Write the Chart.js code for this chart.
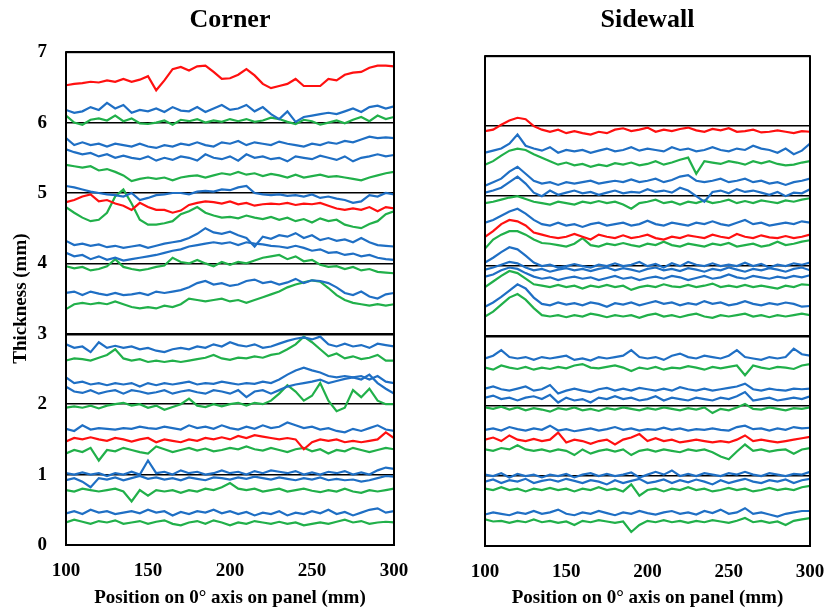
<!DOCTYPE html>
<html>
<head>
<meta charset="utf-8">
<script src="https://cdn.jsdelivr.net/npm/chart.js@4.4.1/dist/chart.umd.min.js"></script>
<style>
  body { margin: 0; background: #fff; }
  #wrap { position: relative; width: 826px; height: 612px; }
  canvas { position: absolute; top: 0; }
</style>
</head>
<body>
<div id="wrap">
  <canvas id="corner" width="410" height="612" style="left:0"></canvas>
  <canvas id="sidewall" width="416" height="612" style="left:410px"></canvas>
</div>
<script>
// position along the 0 deg axis (mm)
var positions = [100,105,110,115,120,125,130,135,140,145,150,155,160,165,170,175,180,185,190,195,200,
                 205,210,215,220,225,230,235,240,245,250,255,260,265,270,275,280,285,290,295,300];
var yTicks = [0,1,2,3,4,5,6,7];
var xTicks = [100,150,200,250,300];

// Corner thickness profiles, top to bottom (mm)
var c01 = [6.53,6.55,6.56,6.58,6.57,6.60,6.58,6.62,6.58,6.61,6.66,6.46,6.60,6.76,6.79,6.74,6.80,6.81,6.72,6.62,6.63,6.68,6.76,6.67,6.55,6.49,6.52,6.55,6.62,6.52,6.52,6.52,6.62,6.60,6.68,6.71,6.72,6.78,6.81,6.81,6.80];
var c02 = [6.18,6.14,6.16,6.22,6.18,6.28,6.20,6.25,6.14,6.18,6.16,6.20,6.15,6.22,6.17,6.16,6.22,6.15,6.20,6.25,6.18,6.20,6.25,6.16,6.22,6.12,6.05,6.16,6.01,6.08,6.10,6.12,6.14,6.12,6.16,6.20,6.15,6.22,6.24,6.20,6.23];
var c03 = [6.10,6.00,5.97,6.04,6.06,6.03,6.10,6.02,6.06,5.99,5.98,6.00,6.03,5.97,6.04,6.02,6.05,6.00,6.03,6.01,6.05,6.02,6.05,6.01,6.03,6.07,6.05,6.01,5.98,6.04,6.02,5.97,6.00,6.03,5.99,6.04,6.08,6.02,6.10,6.05,6.08];
var c04 = [5.78,5.68,5.72,5.68,5.70,5.66,5.70,5.68,5.66,5.70,5.66,5.64,5.68,5.66,5.70,5.68,5.72,5.68,5.66,5.72,5.70,5.74,5.68,5.72,5.70,5.68,5.73,5.70,5.68,5.66,5.70,5.68,5.72,5.70,5.74,5.72,5.76,5.80,5.78,5.79,5.78];
var c05 = [5.62,5.58,5.55,5.57,5.52,5.55,5.50,5.53,5.50,5.48,5.52,5.46,5.50,5.47,5.52,5.50,5.46,5.55,5.50,5.48,5.52,5.46,5.55,5.50,5.52,5.48,5.50,5.45,5.52,5.50,5.48,5.53,5.50,5.47,5.52,5.45,5.50,5.52,5.55,5.52,5.54];
var c06 = [5.40,5.38,5.36,5.38,5.32,5.34,5.30,5.25,5.17,5.20,5.22,5.20,5.22,5.18,5.22,5.24,5.25,5.22,5.25,5.28,5.26,5.30,5.26,5.28,5.24,5.27,5.25,5.22,5.26,5.22,5.24,5.26,5.23,5.24,5.22,5.20,5.18,5.22,5.25,5.28,5.30];
var c07 = [5.10,5.08,5.05,5.02,5.00,4.98,4.97,4.95,5.00,4.90,4.93,4.97,4.98,5.00,5.00,4.98,5.02,5.03,5.02,5.05,5.04,5.08,5.10,5.00,4.98,4.97,4.98,4.96,4.97,4.95,4.98,4.93,4.95,4.92,4.90,4.86,4.88,4.97,4.95,5.00,4.98];
var c08 = [4.87,4.90,4.95,4.98,4.88,4.90,4.85,4.82,4.76,4.86,4.80,4.76,4.76,4.72,4.75,4.83,4.86,4.88,4.87,4.85,4.88,4.84,4.86,4.82,4.84,4.85,4.84,4.86,4.83,4.85,4.84,4.86,4.82,4.78,4.76,4.78,4.76,4.80,4.74,4.80,4.78];
var c09 = [4.80,4.72,4.65,4.60,4.62,4.72,4.95,5.05,4.85,4.62,4.55,4.55,4.57,4.60,4.70,4.74,4.80,4.72,4.68,4.65,4.66,4.64,4.68,4.65,4.63,4.66,4.62,4.65,4.60,4.63,4.58,4.64,4.60,4.62,4.55,4.52,4.50,4.56,4.60,4.70,4.74];
var c10 = [4.32,4.26,4.28,4.25,4.27,4.23,4.25,4.22,4.24,4.26,4.22,4.25,4.28,4.30,4.32,4.36,4.42,4.50,4.44,4.42,4.45,4.40,4.36,4.24,4.38,4.35,4.40,4.38,4.43,4.36,4.40,4.33,4.36,4.32,4.34,4.30,4.36,4.30,4.26,4.25,4.24];
var c11 = [4.15,4.10,4.12,4.06,4.10,4.05,4.08,4.04,4.06,4.08,4.10,4.12,4.15,4.18,4.20,4.24,4.26,4.28,4.30,4.28,4.30,4.26,4.30,4.28,4.27,4.25,4.24,4.22,4.25,4.22,4.18,4.20,4.15,4.16,4.12,4.14,4.10,4.12,4.08,4.06,4.05];
var c12 = [3.96,3.93,3.95,3.90,3.92,3.96,4.06,3.95,3.92,3.90,3.92,3.95,3.97,4.08,4.02,4.00,4.05,4.00,3.96,4.02,3.98,4.02,4.00,4.04,4.08,4.10,4.12,4.06,4.10,4.03,4.05,3.98,3.95,3.96,3.92,3.95,3.90,3.92,3.88,3.87,3.86];
var c13 = [3.58,3.60,3.55,3.60,3.57,3.55,3.58,3.55,3.56,3.58,3.55,3.60,3.58,3.60,3.62,3.66,3.72,3.75,3.70,3.72,3.68,3.70,3.75,3.77,3.72,3.74,3.70,3.73,3.78,3.72,3.76,3.75,3.72,3.66,3.58,3.55,3.60,3.53,3.50,3.56,3.58];
var c14 = [3.35,3.42,3.44,3.42,3.44,3.42,3.46,3.42,3.38,3.36,3.38,3.36,3.40,3.38,3.42,3.50,3.48,3.46,3.48,3.50,3.46,3.48,3.44,3.48,3.52,3.56,3.60,3.66,3.70,3.73,3.76,3.74,3.65,3.55,3.48,3.44,3.42,3.40,3.42,3.40,3.42];
var c15 = [2.85,2.80,2.82,2.74,2.88,2.80,2.83,2.80,2.82,2.78,2.80,2.76,2.74,2.78,2.80,2.78,2.82,2.80,2.85,2.82,2.88,2.84,2.82,2.85,2.80,2.82,2.86,2.90,2.93,2.95,2.92,2.96,2.85,2.82,2.86,2.82,2.84,2.80,2.86,2.84,2.82];
var c16 = [2.62,2.65,2.64,2.62,2.66,2.70,2.78,2.65,2.62,2.64,2.60,2.62,2.60,2.62,2.60,2.62,2.64,2.66,2.70,2.65,2.63,2.66,2.65,2.68,2.66,2.70,2.72,2.78,2.85,2.96,2.88,2.78,2.68,2.72,2.65,2.68,2.64,2.66,2.70,2.62,2.62];
var c17 = [2.38,2.30,2.32,2.28,2.30,2.27,2.30,2.28,2.30,2.25,2.30,2.27,2.30,2.28,2.30,2.32,2.28,2.30,2.29,2.32,2.30,2.28,2.30,2.29,2.32,2.30,2.35,2.42,2.48,2.52,2.48,2.45,2.40,2.38,2.40,2.38,2.40,2.35,2.40,2.32,2.30];
var c18 = [2.25,2.18,2.16,2.20,2.15,2.18,2.20,2.15,2.20,2.18,2.15,2.17,2.20,2.15,2.18,2.20,2.17,2.15,2.20,2.18,2.15,2.20,2.10,2.18,2.20,2.15,2.20,2.25,2.28,2.30,2.32,2.35,2.30,2.33,2.36,2.38,2.35,2.42,2.30,2.22,2.15];
var c19 = [1.95,1.97,1.95,1.98,1.94,1.98,2.00,2.02,1.98,2.00,1.95,1.98,1.92,1.96,2.00,2.08,1.98,1.96,2.00,1.97,2.00,2.02,1.98,2.02,2.00,2.05,2.15,2.27,2.18,2.05,2.12,2.30,2.05,1.90,1.95,2.20,2.10,2.22,2.05,2.00,2.00];
var c20 = [1.65,1.62,1.70,1.64,1.66,1.65,1.64,1.66,1.65,1.68,1.66,1.65,1.68,1.66,1.64,1.70,1.66,1.68,1.65,1.70,1.66,1.64,1.68,1.65,1.70,1.66,1.68,1.74,1.70,1.66,1.68,1.64,1.66,1.62,1.60,1.65,1.62,1.66,1.70,1.64,1.62];
var c21 = [1.47,1.52,1.50,1.53,1.50,1.48,1.52,1.50,1.47,1.50,1.52,1.46,1.50,1.48,1.46,1.50,1.48,1.52,1.50,1.53,1.50,1.55,1.52,1.56,1.54,1.52,1.50,1.52,1.50,1.36,1.46,1.50,1.48,1.50,1.46,1.48,1.46,1.48,1.50,1.60,1.52];
var c22 = [1.30,1.35,1.32,1.38,1.20,1.35,1.33,1.38,1.35,1.32,1.30,1.40,1.36,1.32,1.35,1.38,1.34,1.37,1.33,1.35,1.38,1.36,1.40,1.36,1.34,1.38,1.35,1.32,1.36,1.38,1.33,1.36,1.30,1.35,1.33,1.38,1.35,1.32,1.35,1.38,1.36];
var c23 = [1.02,1.00,1.03,1.00,1.02,0.98,1.02,1.00,1.04,1.00,1.20,1.02,1.04,1.00,1.06,1.02,1.04,1.00,1.02,1.06,1.02,1.04,1.00,1.05,1.02,1.06,1.04,1.02,1.05,1.00,1.03,1.00,1.04,1.02,1.05,1.00,1.03,1.00,1.06,1.10,1.08];
var c24 = [0.92,0.95,0.90,0.82,0.95,0.93,0.96,0.92,0.95,0.98,0.94,0.96,0.93,0.95,0.92,0.96,0.94,0.92,0.96,0.95,0.93,0.96,0.94,0.97,0.95,0.93,0.96,0.94,0.92,0.95,0.93,0.96,0.92,0.94,0.92,0.93,0.90,0.92,0.95,0.98,0.97];
var c25 = [0.78,0.76,0.80,0.78,0.76,0.78,0.80,0.76,0.62,0.78,0.70,0.78,0.76,0.78,0.74,0.78,0.76,0.80,0.78,0.82,0.88,0.80,0.78,0.80,0.76,0.78,0.80,0.76,0.78,0.80,0.77,0.75,0.78,0.76,0.80,0.76,0.74,0.78,0.76,0.78,0.80];
var c26 = [0.45,0.48,0.44,0.50,0.46,0.48,0.44,0.46,0.48,0.45,0.50,0.46,0.48,0.42,0.47,0.44,0.48,0.46,0.50,0.45,0.48,0.44,0.47,0.42,0.46,0.44,0.48,0.42,0.46,0.44,0.48,0.45,0.50,0.44,0.47,0.42,0.46,0.50,0.52,0.46,0.48];
var c27 = [0.32,0.36,0.33,0.30,0.34,0.32,0.35,0.30,0.32,0.34,0.30,0.33,0.35,0.30,0.28,0.32,0.34,0.30,0.35,0.32,0.28,0.32,0.30,0.34,0.32,0.30,0.33,0.30,0.32,0.28,0.30,0.32,0.30,0.33,0.36,0.32,0.34,0.30,0.32,0.33,0.32];
var cornerSeries = [c01,c02,c03,c04,c05,c06,c07,c08,c09,c10,c11,c12,c13,c14,c15,c16,c17,c18,c19,c20,c21,c22,c23,c24,c25,c26,c27];
var cornerKinds = ['r','b','g','b','b','g','b','r','g','b','b','g','b','g','b','g','b','b','g','b','r','g','b','b','g','b','g'];

// Sidewall thickness profiles, top to bottom (mm)
var s01 = [5.93,5.95,6.02,6.08,6.12,6.10,6.00,5.95,5.92,5.95,5.90,5.93,5.90,5.88,5.92,5.90,5.95,5.97,5.93,5.95,5.98,5.92,5.95,5.93,5.96,5.98,5.94,5.92,5.96,5.94,5.97,5.92,5.93,5.95,5.91,5.92,5.94,5.92,5.90,5.93,5.92];
var s02 = [5.62,5.65,5.68,5.75,5.88,5.72,5.68,5.65,5.70,5.62,5.66,5.64,5.66,5.62,5.65,5.68,5.64,5.66,5.70,5.65,5.68,5.66,5.64,5.70,5.66,5.68,5.64,5.66,5.70,5.66,5.64,5.68,5.66,5.72,5.68,5.66,5.62,5.68,5.60,5.65,5.75];
var s03 = [5.45,5.50,5.58,5.65,5.68,5.66,5.60,5.55,5.50,5.45,5.48,5.44,5.46,5.42,5.45,5.43,5.47,5.45,5.48,5.44,5.46,5.50,5.45,5.48,5.52,5.55,5.32,5.50,5.48,5.46,5.50,5.48,5.45,5.50,5.47,5.50,5.46,5.44,5.45,5.48,5.50];
var s04 = [5.15,5.20,5.25,5.35,5.42,5.32,5.22,5.18,5.20,5.16,5.20,5.18,5.20,5.22,5.18,5.20,5.22,5.20,5.24,5.20,5.22,5.25,5.20,5.23,5.28,5.30,5.22,5.20,5.22,5.25,5.20,5.22,5.25,5.20,5.22,5.18,5.20,5.16,5.20,5.22,5.25];
var s05 = [5.05,5.08,5.12,5.20,5.28,5.18,5.05,5.00,5.08,5.02,5.05,5.08,5.04,5.06,5.02,5.05,5.08,5.04,5.06,5.05,5.10,5.06,5.08,5.05,5.12,5.08,5.00,4.92,5.06,5.08,5.04,5.10,5.06,5.08,5.05,5.02,5.06,5.00,5.05,5.04,5.10];
var s06 = [4.90,4.92,4.95,4.98,5.00,4.96,4.92,4.90,4.88,4.92,4.90,4.88,4.92,4.90,4.93,4.90,4.92,4.88,4.82,4.90,4.92,4.95,4.90,4.92,4.88,4.92,4.90,4.94,4.90,4.92,4.95,4.90,4.93,4.90,4.94,4.92,4.90,4.94,4.92,4.95,4.97];
var s07 = [4.62,4.66,4.72,4.78,4.82,4.75,4.66,4.60,4.58,4.62,4.58,4.60,4.56,4.60,4.62,4.58,4.60,4.62,4.58,4.60,4.65,4.60,4.58,4.62,4.60,4.58,4.62,4.60,4.64,4.60,4.58,4.62,4.66,4.60,4.62,4.58,4.60,4.62,4.60,4.64,4.62];
var s08 = [4.42,4.50,4.60,4.66,4.64,4.58,4.48,4.45,4.42,4.40,4.42,4.46,4.42,4.38,4.45,4.42,4.40,4.44,4.40,4.42,4.45,4.40,4.38,4.42,4.40,4.44,4.42,4.40,4.45,4.42,4.40,4.46,4.42,4.40,4.44,4.41,4.40,4.43,4.40,4.42,4.45];
var s09 = [4.25,4.38,4.45,4.50,4.50,4.45,4.38,4.33,4.32,4.30,4.28,4.32,4.40,4.30,4.28,4.32,4.30,4.33,4.30,4.28,4.32,4.30,4.35,4.30,4.28,4.32,4.30,4.28,4.32,4.30,4.33,4.28,4.30,4.32,4.28,4.30,4.35,4.30,4.32,4.35,4.37];
var s10 = [4.05,4.12,4.20,4.27,4.24,4.15,4.05,4.00,4.02,3.98,4.00,4.03,4.00,3.98,4.02,4.00,4.04,4.00,4.02,4.06,4.00,4.03,3.98,4.04,4.00,4.06,4.02,4.00,4.04,4.00,4.02,4.00,4.05,4.00,4.03,3.98,4.02,4.00,4.04,4.02,4.05];
var s11 = [3.95,3.98,4.02,4.06,4.04,3.98,3.94,3.96,3.92,3.95,3.97,3.94,3.96,3.93,3.96,3.98,3.94,3.97,3.95,3.92,3.96,3.98,3.94,3.96,3.93,3.97,3.95,3.92,3.96,3.94,3.98,3.95,3.92,3.96,3.94,3.97,3.95,3.92,3.96,3.98,3.94];
var s12 = [3.85,3.88,3.94,3.98,3.96,3.90,3.85,3.82,3.84,3.80,3.83,3.85,3.82,3.84,3.80,3.83,3.86,3.82,3.84,3.80,3.83,3.85,3.82,3.86,3.84,3.80,3.83,3.86,3.82,3.84,3.88,3.84,3.82,3.86,3.84,3.82,3.85,3.83,3.86,3.84,3.87];
var s13 = [3.70,3.78,3.86,3.93,3.90,3.82,3.74,3.72,3.70,3.73,3.70,3.72,3.68,3.72,3.70,3.73,3.70,3.72,3.66,3.70,3.72,3.70,3.74,3.71,3.70,3.73,3.70,3.72,3.75,3.70,3.72,3.70,3.73,3.70,3.72,3.70,3.68,3.72,3.70,3.74,3.73];
var s14 = [3.42,3.48,3.56,3.65,3.74,3.68,3.55,3.46,3.44,3.48,3.45,3.47,3.44,3.48,3.46,3.42,3.47,3.45,3.48,3.44,3.47,3.50,3.46,3.48,3.44,3.47,3.45,3.50,3.46,3.48,3.44,3.46,3.50,3.46,3.44,3.47,3.45,3.48,3.46,3.42,3.43];
var s15 = [3.28,3.35,3.45,3.55,3.60,3.52,3.40,3.30,3.28,3.30,3.27,3.30,3.28,3.32,3.30,3.27,3.30,3.28,3.30,3.26,3.30,3.32,3.28,3.30,3.27,3.30,3.32,3.28,3.26,3.30,3.28,3.30,3.32,3.28,3.30,3.27,3.30,3.28,3.30,3.32,3.30];
var s16 = [2.68,2.72,2.80,2.70,2.68,2.70,2.66,2.70,2.68,2.70,2.72,2.66,2.68,2.65,2.70,2.68,2.70,2.72,2.80,2.70,2.68,2.70,2.66,2.72,2.75,2.70,2.68,2.72,2.70,2.68,2.72,2.80,2.70,2.68,2.66,2.70,2.68,2.70,2.82,2.74,2.72];
var s17 = [2.55,2.52,2.58,2.55,2.53,2.56,2.52,2.55,2.53,2.56,2.54,2.58,2.60,2.55,2.54,2.56,2.58,2.55,2.50,2.55,2.53,2.56,2.52,2.55,2.54,2.57,2.55,2.52,2.56,2.54,2.56,2.58,2.44,2.58,2.55,2.53,2.56,2.55,2.53,2.58,2.60];
var s18 = [2.25,2.28,2.24,2.22,2.25,2.28,2.22,2.24,2.30,2.18,2.22,2.25,2.22,2.20,2.24,2.26,2.22,2.25,2.22,2.26,2.24,2.22,2.25,2.22,2.27,2.24,2.22,2.25,2.22,2.24,2.26,2.28,2.32,2.24,2.22,2.25,2.23,2.22,2.25,2.24,2.25];
var s19 = [2.12,2.15,2.10,2.12,2.08,2.12,2.14,2.10,2.16,2.05,2.12,2.08,2.10,2.05,2.12,2.10,2.14,2.10,2.12,2.08,2.10,2.14,2.08,2.12,2.10,2.08,2.12,2.10,2.08,2.12,2.10,2.14,2.20,2.08,2.10,2.12,2.08,2.10,2.12,2.10,2.14];
var s20 = [1.98,1.96,1.99,1.95,1.98,1.94,1.97,1.95,1.92,1.97,1.95,1.98,1.94,1.96,1.93,1.97,1.95,1.98,1.96,1.94,1.97,1.95,1.98,1.96,1.94,1.97,1.95,1.98,1.90,1.96,1.94,1.98,2.03,1.96,1.95,1.98,1.96,1.94,1.97,1.96,1.98];
var s21 = [1.66,1.68,1.65,1.70,1.67,1.65,1.68,1.66,1.72,1.65,1.67,1.64,1.66,1.68,1.65,1.67,1.70,1.66,1.68,1.65,1.67,1.66,1.69,1.66,1.68,1.65,1.67,1.66,1.68,1.66,1.65,1.70,1.72,1.67,1.68,1.65,1.68,1.66,1.70,1.68,1.69];
var s22 = [1.52,1.55,1.50,1.58,1.52,1.50,1.53,1.50,1.52,1.62,1.48,1.52,1.50,1.46,1.50,1.52,1.45,1.52,1.55,1.60,1.50,1.54,1.50,1.52,1.48,1.50,1.52,1.50,1.48,1.50,1.48,1.52,1.58,1.50,1.52,1.50,1.48,1.50,1.52,1.54,1.56];
var s23 = [1.38,1.36,1.40,1.38,1.44,1.38,1.36,1.38,1.35,1.38,1.36,1.30,1.38,1.32,1.36,1.38,1.35,1.38,1.30,1.36,1.38,1.35,1.38,1.36,1.34,1.38,1.36,1.38,1.34,1.28,1.24,1.35,1.45,1.36,1.38,1.35,1.37,1.38,1.32,1.38,1.40];
var s24 = [1.02,1.00,1.04,0.98,1.03,1.00,1.02,0.98,1.02,1.00,1.03,0.98,1.02,1.04,1.00,1.03,1.00,1.02,1.05,0.98,1.02,1.06,1.02,1.08,1.00,1.03,1.00,1.04,1.02,1.00,1.04,1.02,1.06,1.02,1.00,1.04,1.02,1.00,1.03,1.02,1.06];
var s25 = [0.92,0.95,0.90,0.94,0.92,0.96,0.90,0.93,0.95,0.92,0.96,0.93,0.90,0.94,0.92,0.88,0.94,0.90,0.93,0.96,0.90,0.92,0.95,0.90,0.94,0.91,0.95,0.92,0.88,0.94,0.90,0.93,0.96,0.92,0.90,0.94,0.92,0.95,0.90,0.94,0.96];
var s26 = [0.82,0.80,0.84,0.80,0.82,0.78,0.82,0.80,0.83,0.80,0.82,0.78,0.82,0.80,0.84,0.80,0.82,0.78,0.88,0.72,0.80,0.82,0.78,0.82,0.80,0.84,0.80,0.82,0.78,0.80,0.83,0.80,0.82,0.78,0.80,0.83,0.80,0.82,0.80,0.84,0.86];
var s27 = [0.45,0.48,0.46,0.44,0.48,0.46,0.50,0.46,0.48,0.52,0.46,0.44,0.48,0.46,0.50,0.47,0.44,0.48,0.46,0.50,0.47,0.45,0.48,0.50,0.46,0.48,0.45,0.50,0.47,0.52,0.46,0.48,0.54,0.46,0.48,0.45,0.42,0.46,0.48,0.50,0.50];
var s28 = [0.38,0.35,0.36,0.33,0.36,0.34,0.38,0.34,0.36,0.33,0.35,0.30,0.36,0.34,0.37,0.35,0.33,0.35,0.20,0.30,0.36,0.34,0.37,0.34,0.36,0.33,0.36,0.34,0.37,0.35,0.33,0.36,0.40,0.34,0.36,0.33,0.35,0.30,0.36,0.38,0.40];
var sidewallSeries = [s01,s02,s03,s04,s05,s06,s07,s08,s09,s10,s11,s12,s13,s14,s15,s16,s17,s18,s19,s20,s21,s22,s23,s24,s25,s26,s27,s28];
var sidewallKinds = ['r','b','g','b','b','g','b','r','g','b','b','b','g','b','g','b','g','b','b','g','b','r','g','b','b','g','b','g'];

var palette = { r: '#ff1010', b: '#1f6fc4', g: '#21b04a' };
var serif = "'Liberation Serif', 'Times New Roman', serif";

// black frame round the plot area
var frame = {
    id: 'frame',
    afterDatasetsDraw: function(chart) {
        var a = chart.chartArea, ctx = chart.ctx;
        ctx.save();
        ctx.strokeStyle = '#000';
        ctx.lineWidth = 2;
        ctx.strokeRect(a.left, a.top, a.right - a.left, a.bottom - a.top);
        ctx.restore();
    }
};

function makeDatasets(series, kinds) {
    return series.map(function(vals, i) {
        return {
            data: vals.map(function(v, j) { return { x: positions[j], y: v }; }),
            borderColor: palette[kinds[i]],
            borderWidth: 2.2,
            pointRadius: 0,
            tension: 0,
            fill: false
        };
    });
}

function makeChart(id, title, series, kinds, o) {
    var ctx = document.getElementById(id).getContext('2d');
    return new Chart(ctx, {
        type: 'line',
        data: { datasets: makeDatasets(series, kinds) },
        plugins: [frame],
        options: {
            responsive: false,
            animation: false,
            devicePixelRatio: 1,
            events: [],
            layout: { padding: { left: 0, right: 16, top: 0, bottom: 0 } },
            plugins: {
                legend: { display: false },
                tooltip: { enabled: false },
                title: {
                    display: true, text: title, fullSize: false, color: '#000',
                    font: { family: serif, size: 26, weight: 'bold' },
                    padding: { top: 5, bottom: o.titleBottom }
                }
            },
            scales: {
                x: {
                    type: 'linear', min: 100, max: 300,
                    afterBuildTicks: function(s) { s.ticks = xTicks.map(function(v) { return { value: v }; }); },
                    afterFit: function(s) { s.height = o.xHeight; },
                    // invisible tick marks give the label gap without widening the side padding
                    grid: { display: false, drawTicks: true, tickLength: 15 },
                    border: { display: false },
                    ticks: { color: '#000', padding: 0, font: { family: serif, size: 19, weight: 'bold' } },
                    title: {
                        display: true, text: 'Position on 0° axis on panel (mm)', color: '#000',
                        font: { family: serif, size: 19, weight: 'bold' },
                        padding: { top: 0, bottom: 3 }
                    }
                },
                y: {
                    min: 0, max: 7,
                    afterBuildTicks: function(s) { s.ticks = yTicks.map(function(v) { return { value: v }; }); },
                    afterFit: function(s) { s.width = o.yWidth; },
                    grid: {
                        color: '#000', drawTicks: false,
                        lineWidth: function(c) { return c.tick && c.tick.value === 3 ? 2.5 : 1.5; }
                    },
                    border: { display: false },
                    ticks: { display: o.yLabels, color: '#000', padding: 19, font: { family: serif, size: 19, weight: 'bold' } },
                    title: {
                        display: o.yLabels, text: 'Thickness (mm)', color: '#000',
                        font: { family: serif, size: 19, weight: 'bold' },
                        padding: { top: 10, bottom: 0 }
                    }
                }
            }
        }
    });
}

window.onload = function() {
    makeChart('corner', 'Corner', cornerSeries, cornerKinds,
        { titleBottom: 16, xHeight: 67, yWidth: 66, yLabels: true });
    makeChart('sidewall', 'Sidewall', sidewallSeries, sidewallKinds,
        { titleBottom: 20, xHeight: 66, yWidth: 75, yLabels: false });
};
</script>
</body>
</html>
